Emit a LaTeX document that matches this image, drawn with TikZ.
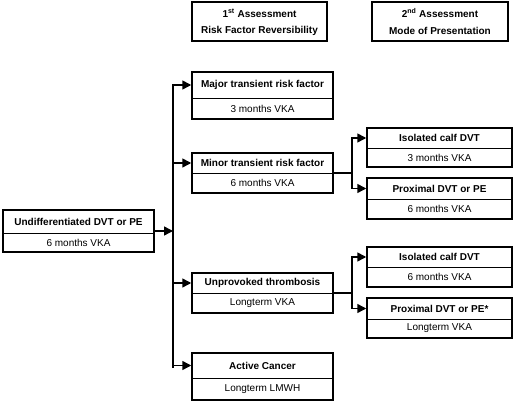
\documentclass[tikz,border=0pt]{standalone}
\usepackage{fontspec}
\setmainfont{Liberation Sans}
\usetikzlibrary{arrows.meta,fit}
\tikzset{
  boxframe/.style={draw=black, line width=1.5pt, inner sep=0pt, fill=white},
  divline/.style={draw=black, line width=0.8pt},
  toptext/.style={font=\fontsize{10}{12}\selectfont\bfseries, inner sep=0pt},
  bottext/.style={font=\fontsize{10}{12}\selectfont, inner sep=0pt},
  conn/.style={draw=black, line width=1.5pt},
  arr/.style={conn, -{Triangle[length=9pt,width=9pt]}}
}
\newcommand\tbox[8]{%
  \coordinate (#1-nw) at (#2,#3);
  \coordinate (#1-se) at (#4,#5);
  \node[boxframe, fit=(#1-nw)(#1-se)] (#1) {};
  \draw[divline] (#2,#6) -- (#4,#6);
  \node[toptext] (#1-t) at ({(#2+#4)/2},{(#3+#6)/2}) {#7};
  \node[bottext] (#1-b) at ({(#2+#4)/2},{(#6+#5)/2}) {#8};
}
\begin{document}
\begin{tikzpicture}[x=1pt,y=-1pt]
\useasboundingbox (0,0) rectangle (520,403);
% header boxes
\coordinate (h1-nw) at (192,2); \coordinate (h1-se) at (327,41);
\node[boxframe, fit=(h1-nw)(h1-se)] (h1) {};
\node[toptext] (h1-a) at (259.5,13) {1\textsuperscript{st} Assessment};
\node[toptext] (h1-b) at (259.5,31) {Risk Factor Reversibility};
\coordinate (h2-nw) at (372,2); \coordinate (h2-se) at (508,41);
\node[boxframe, fit=(h2-nw)(h2-se)] (h2) {};
\node[toptext] (h2-a) at (440,13) {2\textsuperscript{nd} Assessment};
\node[toptext] (h2-b) at (440,31) {Mode of Presentation};
% connector points
\coordinate (trunktop) at (173,85);
\coordinate (trunkbot) at (173,368);
\coordinate (split1) at (352,173);
\coordinate (split2) at (352,293);
% boxes
\tbox{undiff}{3}{210}{154}{252}{233}{Undifferentiated DVT or PE}{6 months VKA}
\tbox{major}{192}{72}{333}{119}{98}{Major transient risk factor}{3 months VKA}
\tbox{minor}{192}{153}{333}{193}{173}{Minor transient risk factor}{6 months VKA}
\tbox{unprov}{192}{273}{333}{313}{293}{Unprovoked thrombosis}{Longterm VKA}
\tbox{cancer}{192}{353}{333}{400}{378}{Active Cancer}{Longterm LMWH}
\tbox{iso1}{367}{128}{512}{167}{148}{Isolated calf DVT}{3 months VKA}
\tbox{prox1}{367}{178}{512}{219}{199}{Proximal DVT or PE}{6 months VKA}
\tbox{iso2}{367}{247}{512}{287}{267}{Isolated calf DVT}{6 months VKA}
\tbox{prox2}{367}{298}{512}{338}{319}{Proximal DVT or PE*}{Longterm VKA}
\coordinate (trunk) at (undiff.east -| trunktop);
% trunk
\draw[conn] (trunktop) -- (trunkbot);
\draw[arr] (undiff.east) -- (trunk);
\draw[arr] (trunk) |- (major.west |- major-t);
\draw[arr] (trunk) |- (minor.west |- minor-t);
\draw[arr] (trunk) |- (unprov.west |- unprov-t);
\draw[arr] (trunk) |- (cancer.west |- cancer-t);
% second level
\draw[conn] (minor.east) -- (split1);
\draw[arr] (split1) |- (iso1.west |- iso1-t);
\draw[arr] (split1) |- (prox1.west |- prox1-t);
\draw[conn] (unprov.east) -- (split2);
\draw[arr] (split2) |- (iso2.west |- iso2-t);
\draw[arr] (split2) |- (prox2.west |- prox2-t);
\end{tikzpicture}
\end{document}
